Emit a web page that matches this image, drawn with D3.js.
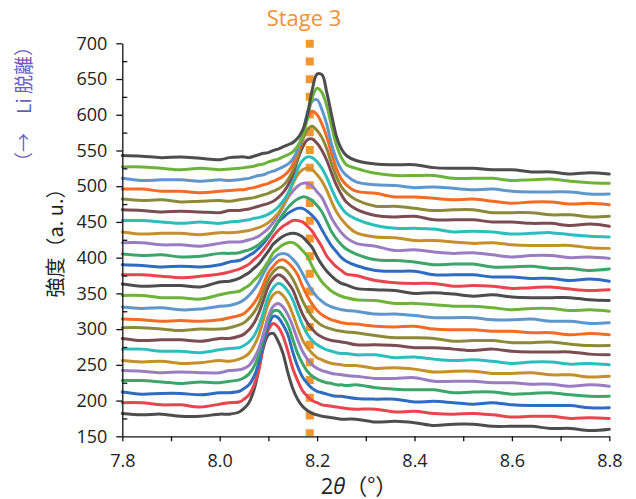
<!DOCTYPE html>
<html>
<head>
<meta charset="utf-8">
<script src="https://cdn.jsdelivr.net/npm/d3@7"></script>
<style>
  body { margin: 0; background: #fff; }
  svg { display: block; }
</style>
</head>
<body>
<svg id="chart" width="636" height="499"></svg>
<script>
// Diffraction angle grid shared by every scan (degrees 2θ)
const twoTheta = [7.80, 7.84, 7.88, 7.92, 7.96, 8.00, 8.02,
  8.04, 8.05, 8.06, 8.07, 8.08, 8.09, 8.10, 8.11, 8.12, 8.13, 8.14, 8.15, 8.16, 8.17, 8.18, 8.19, 8.20, 8.21, 8.22, 8.23, 8.24, 8.25, 8.26,
  8.28, 8.32, 8.36, 8.40, 8.44, 8.48, 8.52, 8.56, 8.60, 8.64, 8.68, 8.72, 8.76, 8.80];

// Offset intensity of each scan, first scan at the bottom of the stack
const scan01 = [182, 180, 181, 178, 178, 181, 181,
  184, 189, 197, 214, 242, 275, 292, 294, 283, 266, 239, 217, 202, 192, 186, 182, 180, 178, 177, 176, 175, 174, 174,
  174, 170, 171, 169, 165, 167, 167, 164, 164, 164, 161, 161, 158, 160];
const scan02 = [197, 197, 194, 194, 191, 195, 197,
  198, 202, 208, 221, 243, 279, 299, 308, 303, 290, 269, 245, 228, 214, 206, 200, 197, 194, 193, 192, 191, 190, 189,
  188, 188, 184, 185, 182, 181, 182, 180, 177, 178, 178, 175, 176, 175];
const scan03 = [212, 209, 210, 210, 208, 211, 211,
  213, 217, 222, 233, 252, 281, 305, 318, 316, 306, 292, 268, 248, 233, 224, 217, 213, 211, 209, 207, 206, 206, 205,
  203, 202, 202, 198, 199, 197, 195, 197, 194, 193, 193, 193, 190, 190];
const scan04 = [228, 228, 226, 224, 226, 225, 227,
  229, 232, 237, 247, 263, 289, 313, 325, 326, 318, 306, 286, 266, 252, 241, 234, 230, 227, 225, 224, 222, 222, 221,
  222, 218, 216, 215, 215, 211, 212, 212, 209, 210, 211, 208, 206, 206];
const scan05 = [242, 241, 239, 240, 239, 239, 242,
  243, 245, 249, 258, 272, 294, 318, 332, 336, 331, 320, 304, 285, 269, 258, 250, 245, 242, 240, 238, 237, 236, 235,
  234, 231, 231, 232, 227, 227, 227, 225, 225, 223, 223, 220, 222, 220];
const scan06 = [256, 254, 255, 252, 253, 256, 255,
  258, 261, 266, 276, 291, 314, 336, 348, 352, 347, 337, 321, 302, 285, 274, 266, 260, 257, 254, 252, 251, 250, 249,
  249, 245, 246, 244, 240, 241, 241, 238, 238, 239, 236, 236, 233, 234];
const scan07 = [272, 272, 269, 269, 267, 271, 273,
  274, 277, 282, 290, 304, 324, 346, 358, 364, 361, 353, 341, 323, 306, 293, 284, 278, 274, 271, 269, 267, 266, 266,
  264, 264, 260, 261, 258, 256, 257, 255, 252, 254, 254, 251, 252, 250];
const scan08 = [287, 284, 285, 285, 283, 287, 287,
  290, 293, 299, 308, 322, 341, 360, 371, 376, 373, 365, 355, 338, 321, 309, 300, 293, 289, 286, 284, 283, 282, 281,
  278, 278, 277, 274, 274, 272, 270, 272, 269, 268, 268, 268, 265, 264];
const scan09 = [302, 302, 300, 298, 300, 300, 302,
  306, 309, 315, 323, 335, 353, 370, 380, 386, 386, 380, 370, 356, 340, 327, 317, 310, 305, 302, 300, 298, 297, 296,
  295, 291, 288, 288, 287, 283, 284, 284, 281, 281, 282, 279, 277, 277];
const scan10 = [314, 313, 311, 312, 311, 313, 316,
  319, 322, 328, 336, 347, 363, 379, 388, 395, 397, 393, 386, 376, 360, 346, 335, 326, 320, 316, 313, 311, 309, 308,
  307, 304, 303, 304, 300, 299, 299, 297, 297, 295, 295, 292, 294, 292];
const scan11 = [331, 329, 330, 327, 328, 332, 333,
  337, 341, 347, 355, 365, 378, 390, 398, 404, 406, 404, 398, 390, 378, 365, 354, 345, 339, 334, 331, 329, 327, 326,
  325, 321, 321, 319, 316, 316, 316, 313, 313, 314, 311, 311, 308, 309];
const scan12 = [347, 347, 344, 344, 342, 348, 351,
  353, 357, 361, 368, 375, 385, 395, 407, 413, 418, 421, 421, 417, 410, 402, 388, 376, 366, 359, 353, 349, 346, 344,
  341, 340, 336, 336, 334, 332, 332, 330, 327, 329, 329, 326, 327, 325];
const scan13 = [363, 360, 361, 361, 359, 366, 367,
  371, 375, 379, 385, 391, 400, 409, 419, 425, 430, 433, 434, 433, 429, 422, 414, 401, 390, 381, 374, 368, 364, 362,
  357, 355, 354, 350, 351, 349, 346, 348, 345, 344, 344, 344, 341, 340];
const scan14 = [376, 376, 374, 372, 374, 377, 380,
  384, 387, 391, 397, 403, 411, 420, 430, 438, 444, 448, 452, 452, 450, 444, 437, 426, 415, 402, 394, 387, 382, 377,
  375, 368, 365, 364, 364, 360, 361, 360, 357, 358, 359, 356, 354, 355];
const scan15 = [390, 389, 387, 388, 387, 390, 394,
  396, 399, 403, 407, 413, 420, 429, 439, 450, 456, 462, 466, 469, 469, 465, 459, 451, 439, 427, 416, 408, 400, 395,
  389, 382, 381, 381, 376, 376, 376, 373, 373, 371, 371, 368, 370, 367];
const scan16 = [405, 403, 404, 401, 402, 406, 406,
  407, 409, 411, 414, 418, 424, 431, 439, 450, 461, 470, 477, 482, 485, 484, 480, 473, 464, 450, 436, 426, 418, 412,
  405, 397, 396, 394, 390, 391, 391, 387, 387, 388, 385, 385, 382, 384];
const scan17 = [421, 421, 418, 418, 416, 420, 422,
  422, 423, 425, 427, 430, 435, 441, 449, 459, 471, 484, 493, 500, 504, 504, 500, 492, 484, 470, 455, 444, 435, 428,
  420, 416, 410, 411, 408, 406, 407, 404, 401, 403, 403, 400, 401, 399];
const scan18 = [436, 433, 434, 434, 432, 435, 435,
  436, 437, 438, 440, 442, 445, 449, 455, 462, 473, 487, 503, 516, 523, 525, 523, 516, 507, 494, 478, 464, 454, 446,
  435, 429, 428, 424, 424, 422, 420, 421, 418, 417, 417, 417, 414, 413];
const scan19 = [452, 452, 450, 448, 450, 448, 450,
  451, 452, 453, 455, 456, 458, 461, 465, 471, 479, 490, 506, 524, 536, 541, 540, 534, 525, 512, 496, 481, 470, 462,
  454, 445, 441, 441, 440, 436, 437, 436, 433, 434, 435, 432, 430, 429];
const scan20 = [467, 466, 464, 465, 464, 463, 466,
  466, 467, 468, 470, 472, 474, 476, 479, 484, 491, 501, 516, 537, 554, 565, 566, 560, 550, 536, 518, 501, 488, 478,
  468, 459, 457, 458, 453, 453, 453, 450, 450, 448, 448, 445, 447, 444];
const scan21 = [482, 480, 481, 478, 479, 480, 479,
  481, 482, 483, 484, 486, 488, 490, 493, 496, 501, 509, 522, 541, 564, 579, 584, 578, 568, 552, 531, 513, 499, 491,
  481, 472, 472, 469, 466, 467, 467, 463, 463, 463, 460, 460, 457, 458];
const scan22 = [496, 496, 493, 493, 491, 493, 494,
  495, 495, 497, 498, 500, 502, 504, 507, 510, 514, 520, 530, 548, 572, 595, 605, 600, 587, 569, 545, 524, 510, 502,
  493, 490, 485, 485, 483, 481, 482, 479, 476, 478, 478, 475, 476, 474];
const scan23 = [511, 508, 509, 509, 507, 509, 508,
  509, 510, 511, 513, 515, 516, 519, 521, 524, 527, 531, 538, 551, 573, 602, 619, 621, 607, 586, 558, 537, 523, 515,
  506, 502, 501, 498, 499, 497, 495, 496, 493, 492, 492, 492, 489, 489];
const scan24 = [527, 527, 525, 523, 525, 523, 524,
  525, 526, 527, 528, 530, 531, 534, 536, 538, 541, 544, 548, 556, 570, 594, 624, 637, 631, 612, 583, 557, 540, 530,
  525, 518, 515, 515, 515, 511, 511, 511, 508, 509, 510, 507, 505, 504];
const scan25 = [543, 542, 540, 541, 539, 537, 540,
  541, 541, 540, 542, 544, 546, 547, 550, 552, 555, 558, 561, 567, 578, 600, 635, 657, 656, 631, 599, 569, 552, 543,
  536, 531, 530, 530, 526, 525, 525, 523, 523, 520, 520, 517, 519, 517];

const scans = [scan01, scan02, scan03, scan04, scan05, scan06, scan07, scan08, scan09, scan10,
  scan11, scan12, scan13, scan14, scan15, scan16, scan17, scan18, scan19, scan20,
  scan21, scan22, scan23, scan24, scan25];

// Colour cycle applied from the bottom scan upwards
const lineColors = ["#4d4d4d", "#e8454f", "#2e6cc0", "#3ba56b", "#9a7cc3", "#c3902c",
  "#2cbdbd", "#7b4c50", "#8c8a38", "#f26c25", "#5f97cc", "#6db23b"];

const yMajorTicks = [150, 200, 250, 300, 350, 400, 450, 500, 550, 600, 650, 700];
const yMinorTicks = [175, 225, 275, 325, 375, 425, 475, 525, 575, 625, 675];
const xMajorTicks = [7.8, 8.0, 8.2, 8.4, 8.6, 8.8];
const xMinorTicks = [7.9, 8.1, 8.3, 8.5, 8.7];

const stageAngle = 8.185;
const stageLabel = "Stage 3";

const svg = d3.select("#chart");
const x = d3.scaleLinear().domain([7.8, 8.8]).range([122.3, 609.3]);
const y = d3.scaleLinear().domain([150, 700]).range([436.3, 43.3]);

const latin = "'Open Sans', 'Noto Sans', sans-serif";
const cjk = "'Noto Sans CJK JP', 'Noto Sans CJK SC', sans-serif";

// Stage 3 reference position (behind the scans)
svg.append("line")
  .attr("x1", x(stageAngle)).attr("x2", x(stageAngle))
  .attr("y1", y(705)).attr("y2", y(150))
  .attr("stroke", "#f5952f")
  .attr("stroke-width", 8)
  .attr("stroke-dasharray", "8 9.7");

svg.append("text")
  .attr("x", 304).attr("y", 26)
  .attr("text-anchor", "middle")
  .attr("font-family", latin)
  .attr("font-size", 22)
  .attr("fill", "#f39233")
  .text(stageLabel);

// Stacked scans
const line = d3.line()
  .x((d, i) => x(twoTheta[i]))
  .y(d => y(d))
  .curve(d3.curveCatmullRom.alpha(0.5));

svg.append("g").selectAll("path")
  .data(scans)
  .join("path")
  .attr("d", d => line(d))
  .attr("fill", "none")
  .attr("stroke", (d, i) => lineColors[i % lineColors.length])
  .attr("stroke-width", 3)
  .attr("stroke-linejoin", "round")
  .attr("stroke-linecap", "round");

// Axes
function styleAxis(g) {
  g.attr("font-family", latin).attr("font-size", 18);
  g.selectAll("text").attr("fill", "#222");
  g.selectAll("line").attr("stroke", "#111").attr("stroke-width", 1.3);
  g.select(".domain").attr("stroke", "#111").attr("stroke-width", 1.3);
}

const yAxis = svg.append("g")
  .attr("transform", `translate(${x(7.8)},0)`)
  .call(d3.axisLeft(y).tickValues(yMajorTicks).tickSize(6).tickPadding(9).tickSizeOuter(0));
styleAxis(yAxis);

const yMinor = svg.append("g")
  .attr("transform", `translate(${x(7.8)},0)`)
  .call(d3.axisRight(y).tickValues(yMinorTicks).tickSize(5).tickFormat(() => "").tickSizeOuter(0));
yMinor.select(".domain").remove();
styleAxis(yMinor);

const xAxis = svg.append("g")
  .attr("transform", `translate(0,${y(150)})`)
  .call(d3.axisBottom(x).tickValues(xMajorTicks).tickSize(5).tickPadding(13)
    .tickFormat(d3.format(".1f")).tickSizeOuter(0));
styleAxis(xAxis);

const xMinor = svg.append("g")
  .attr("transform", `translate(0,${y(150)})`)
  .call(d3.axisBottom(x).tickValues(xMinorTicks).tickSize(5).tickFormat(() => "").tickSizeOuter(0));
xMinor.select(".domain").remove();
styleAxis(xMinor);

// Axis titles
const xTitle = svg.append("text")
  .attr("x", 359).attr("y", 494)
  .attr("text-anchor", "middle")
  .attr("font-size", 22)
  .attr("fill", "#222");
xTitle.append("tspan").attr("font-family", latin).text("2");
xTitle.append("tspan").attr("font-family", latin).attr("font-style", "italic").text("θ");
xTitle.append("tspan").attr("font-family", cjk).text("（°）");

svg.append("text")
  .attr("transform", "translate(63,238) rotate(-90)")
  .attr("text-anchor", "middle")
  .attr("font-family", cjk)
  .attr("font-size", 20)
  .attr("fill", "#222")
  .text("強度（a. u.）");

svg.append("text")
  .attr("transform", "translate(31,104) rotate(-90)")
  .attr("text-anchor", "middle")
  .attr("font-family", cjk)
  .attr("font-size", 19)
  .attr("fill", "#6b5dbf")
  .text("（→　Li 脱離）");
</script>
</body>
</html>
